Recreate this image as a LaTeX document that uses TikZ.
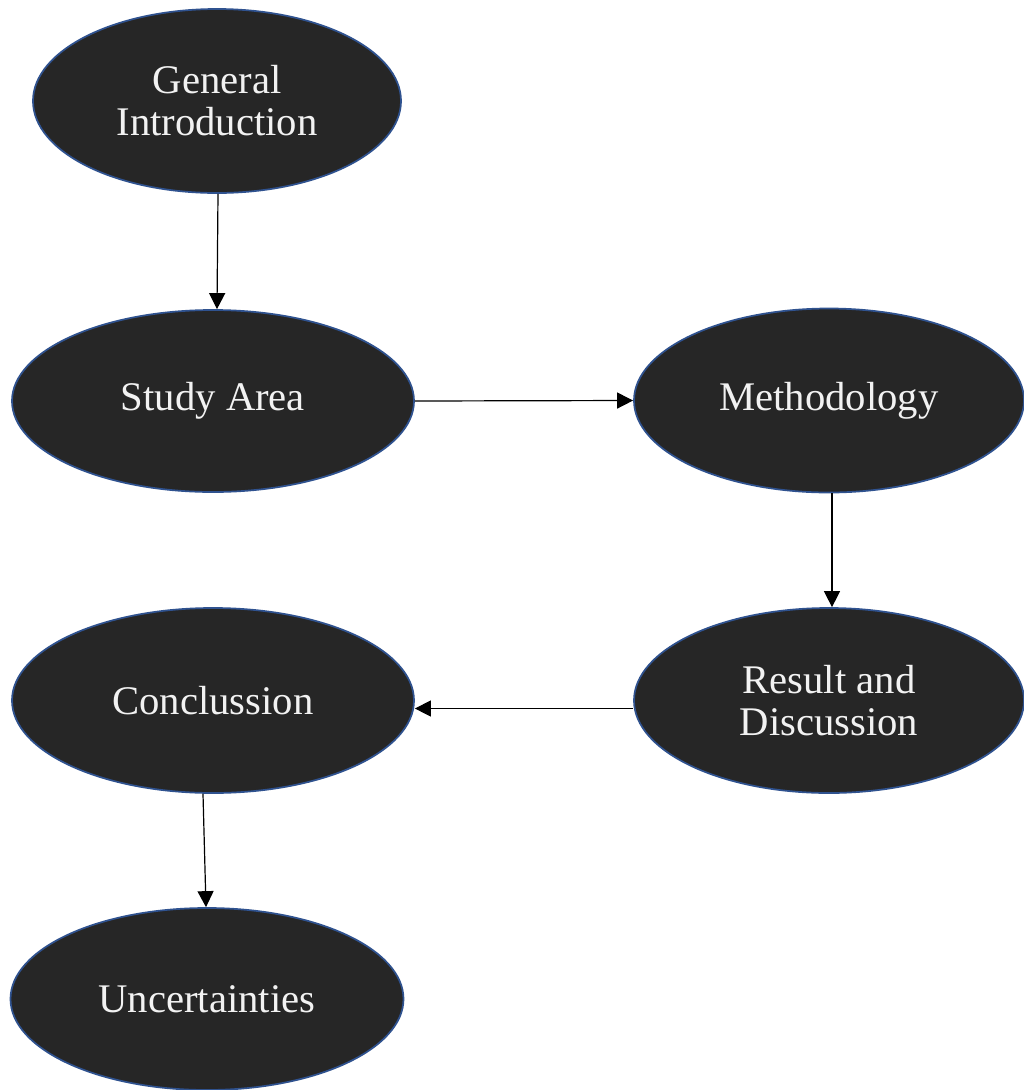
\documentclass[tikz,border=0pt]{standalone}
\usepackage{fontspec}
\setmainfont{Liberation Serif}
\usetikzlibrary{shapes.geometric,arrows.meta,calc}
\definecolor{stagefill}{RGB}{38,38,38}
\definecolor{stageedge}{RGB}{47,82,143}
\definecolor{stagetext}{RGB}{242,242,242}
\begin{document}
\begin{tikzpicture}[x=0.75pt,y=-0.75pt,
  stage/.style={ellipse, draw=stageedge, line width=1.3pt, fill=stagefill,
    text=stagetext, inner sep=0pt, align=center,
    font=\fontsize{30.5}{31.5}\selectfont},
  flow/.style={draw=black, line width=0.9pt, -{Triangle[length=12pt,width=12pt]}}]
  \useasboundingbox (0,0) rectangle (1024,1090);

  % stages of the study
  \node[stage, minimum width=276pt, minimum height=138pt] (gi) at (217,101) {General\\Introduction};
  \node[stage, minimum width=301.5pt, minimum height=136.5pt] (sa) at (213,401) {Study Area};
  \node[stage, minimum width=292.5pt, minimum height=138pt] (me) at (829,400.5) {Methodology};
  \node[stage, minimum width=292.5pt, minimum height=138.75pt] (re) at (829,700.5) {Result and\\Discussion};
  \node[stage, minimum width=301.5pt, minimum height=138.75pt] (co) at (213,700.5) {Conclussion};
  \node[stage, minimum width=294.75pt, minimum height=136.5pt] (un) at (207,999) {Uncertainties};

  % order of the stages
  \draw[flow] ($(gi.south)+(1,0)$) -- ($(sa.north)+(4,0)$);
  \draw[flow] (sa.east) -- (me.west);
  \draw[flow] ($(me.south)+(3,0)$) -- ($(re.north)+(3,0)$);
  \draw[flow] ($(re.west)+(0,8)$) -- ($(co.east)+(0,8)$);
  \draw[flow] ($(co.south)+(-10,0)$) -- ($(un.north)+(-1,0)$);
\end{tikzpicture}
\end{document}
